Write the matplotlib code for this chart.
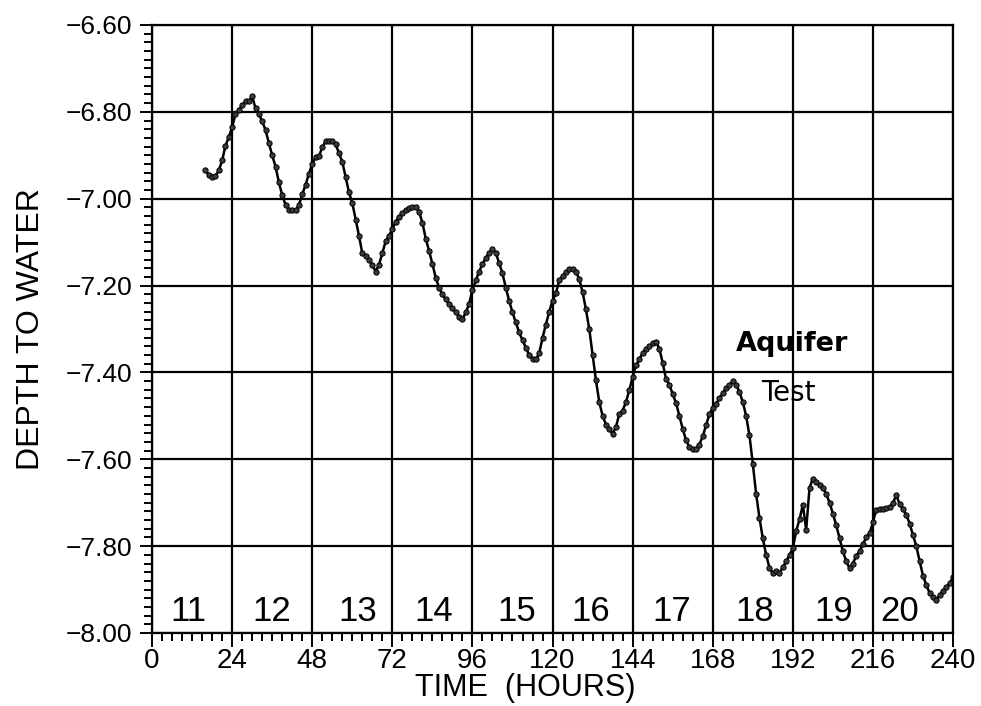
import numpy as np
import matplotlib
matplotlib.use("Agg")
import matplotlib.pyplot as plt
from matplotlib.ticker import MultipleLocator, FuncFormatter

# Hourly water level record (hours from start, depth to water in ft)
hours = np.arange(16, 241)
depth = [
    -6.935, -6.945, -6.950, -6.948, -6.935, -6.912, -6.878, -6.858, -6.835,  # 16-24
    -6.805, -6.795, -6.785, -6.776, -6.776, -6.764, -6.792, -6.805, -6.822,  # 25-33
    -6.842, -6.872, -6.900, -6.926, -6.962, -6.992, -7.014, -7.025, -7.027,  # 34-42
    -7.027, -7.015, -6.990, -6.968, -6.942, -6.920, -6.905, -6.902, -6.882,  # 43-51
    -6.868, -6.866, -6.868, -6.875, -6.895, -6.915, -6.950, -6.985, -7.010,  # 52-60
    -7.048, -7.085, -7.126, -7.133, -7.140, -7.152, -7.168, -7.152, -7.125,  # 61-69
    -7.098, -7.085, -7.070, -7.053, -7.042, -7.034, -7.025, -7.022, -7.020,  # 70-78
    -7.019, -7.030, -7.055, -7.092, -7.120, -7.150, -7.182, -7.205, -7.220,  # 79-87
    -7.232, -7.243, -7.252, -7.262, -7.272, -7.277, -7.262, -7.242, -7.210,  # 88-96
    -7.188, -7.168, -7.150, -7.137, -7.124, -7.116, -7.125, -7.148, -7.172,  # 97-105
    -7.205, -7.235, -7.262, -7.285, -7.308, -7.326, -7.343, -7.360, -7.368,  # 106-114
    -7.370, -7.356, -7.320, -7.290, -7.260, -7.235, -7.218, -7.188, -7.178,  # 115-123
    -7.168, -7.163, -7.161, -7.168, -7.185, -7.215, -7.255, -7.300, -7.360,  # 124-132
    -7.418, -7.468, -7.500, -7.520, -7.530, -7.542, -7.525, -7.496, -7.488,  # 133-141
    -7.468, -7.441, -7.410, -7.384, -7.370, -7.355, -7.345, -7.340, -7.333,  # 142-150
    -7.330, -7.345, -7.378, -7.415, -7.428, -7.450, -7.470, -7.500, -7.530,  # 151-159
    -7.556, -7.572, -7.576, -7.576, -7.566, -7.547, -7.522, -7.496, -7.482,  # 160-168
    -7.472, -7.460, -7.448, -7.436, -7.430, -7.420, -7.428, -7.445, -7.468,  # 169-177
    -7.500, -7.545, -7.610, -7.680, -7.735, -7.782, -7.820, -7.850, -7.862,  # 178-186
    -7.858, -7.862, -7.848, -7.835, -7.820, -7.805, -7.765, -7.738, -7.705,  # 187-195
    -7.762, -7.665, -7.645, -7.652, -7.660, -7.666, -7.680, -7.700, -7.725,  # 196-204
    -7.752, -7.782, -7.812, -7.835, -7.851, -7.840, -7.822, -7.812, -7.795,  # 205-213
    -7.780, -7.770, -7.745, -7.716, -7.715, -7.714, -7.712, -7.710, -7.700,  # 214-222
    -7.683, -7.703, -7.715, -7.728, -7.748, -7.775, -7.800, -7.835, -7.868,  # 223-231
    -7.890, -7.908, -7.918, -7.923, -7.912, -7.903, -7.895, -7.885, -7.872,  # 232-240
]

# day-of-month labels along the bottom of the plot
day_labels = ["11", "12", "13", "14", "15", "16", "17", "18", "19", "20"]
day_x = [10.8, 36.0, 61.5, 84.5, 109.4, 131.5, 155.8, 180.7, 204.3, 224.1]

fam = ["Liberation Sans", "DejaVu Sans"]
plt.rcParams["font.family"] = fam

fig = plt.figure(figsize=(9.81, 7.06), dpi=100)
ax = fig.add_axes([0.155, 0.1034, 0.8165, 0.8612])

ax.plot(hours, depth, color="black", lw=1.8, marker="o", ms=3.8,
        mfc="#3a3a3a", mec="black", mew=0.7)

ax.set_xlim(0, 240)
ax.set_ylim(-8.0, -6.6)
ax.xaxis.set_major_locator(MultipleLocator(24))
ax.xaxis.set_minor_locator(MultipleLocator(3))
ax.yaxis.set_major_locator(MultipleLocator(0.2))
ax.yaxis.set_minor_locator(MultipleLocator(0.02))
ax.yaxis.set_major_formatter(FuncFormatter(lambda v, p: "\u2212%.2f" % abs(v)))

ax.grid(True, which="major", color="black", lw=1.6)
for s in ax.spines.values():
    s.set_linewidth(1.6)
ax.tick_params(which="both", direction="out", width=1.4, top=False, right=False)
ax.tick_params(axis="x", which="major", length=10, labelsize=20, pad=1)
ax.tick_params(axis="x", which="minor", length=6)
ax.tick_params(axis="y", which="major", length=9, labelsize=19, pad=5)
ax.tick_params(axis="y", which="minor", length=6)

for lab, x in zip(day_labels, day_x):
    ax.text(x, -7.973, lab, ha="center", va="baseline", fontsize=25)

ax.text(174.9, -7.3506, "Aquifer", fontsize=19.5, fontweight="bold",
        ha="left", va="baseline", family=["DejaVu Sans"])
ax.text(182.4, -7.465, "Test", fontsize=20, ha="left", va="baseline",
        family=["DejaVu Sans"])

ax.set_ylabel("DEPTH TO WATER", fontsize=23, labelpad=14)
fig.text(525 / 981, 1 - 688 / 706, "TIME  (HOURS)", fontsize=22,
         ha="center", va="center")

fig.savefig("out.png", dpi=100)
